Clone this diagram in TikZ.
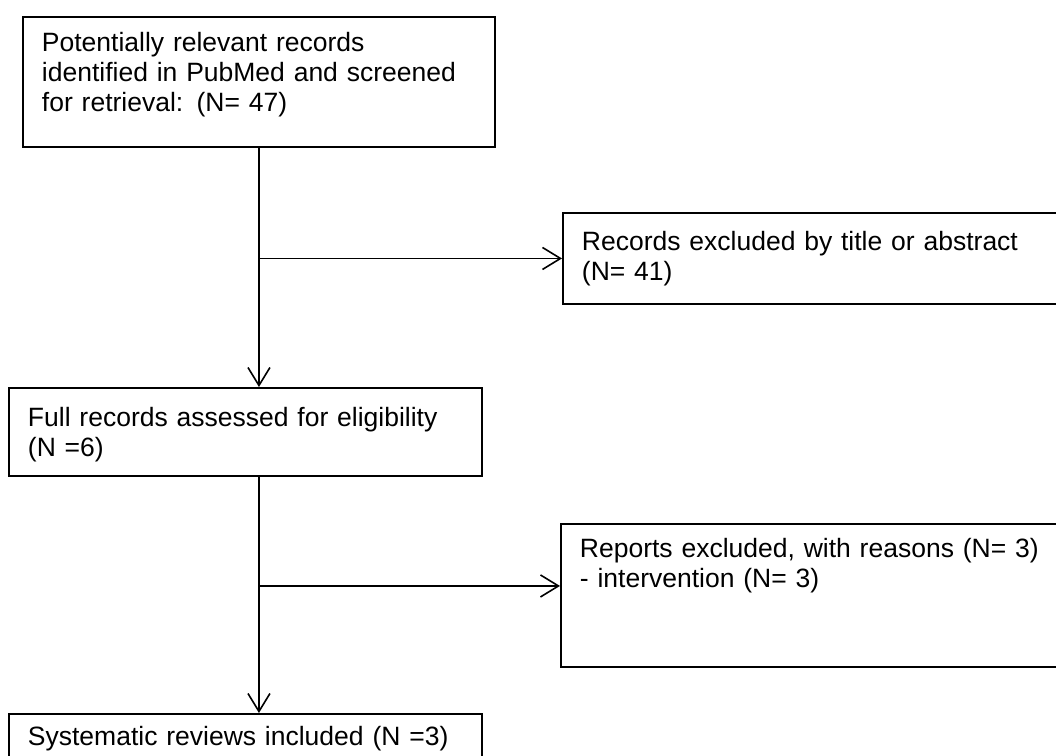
\documentclass[tikz,border=0pt]{standalone}
\usepackage{fontspec}
\setmainfont{Liberation Sans}
\usetikzlibrary{arrows.meta, positioning}

\begin{document}
\begin{tikzpicture}[
  x=1pt, y=-1pt,
  rec/.style={rectangle, draw=black, line width=1.9pt, anchor=north west,
    align=left, inner xsep=19pt, inner ysep=0pt,
    font=\fontsize{26.5}{29.6}\selectfont},
  arr/.style={-{Straight Barb[length=18pt, width=22pt, line width=1.6pt]}, line width=1.6pt, black}
]
  \useasboundingbox (0,0) rectangle (1056,755);

  \node[rec, text width=434pt, text height=35pt, text depth=95pt] (ident) at (22,16)
    {Potentially relevant records\\identified in PubMed and screened\\for retrieval: (N= 47)};
  \node[rec, text width=480pt, text height=38pt, text depth=53pt] (excl) at (562,212)
    {Records excluded by title or abstract\\(N= 41)};
  \node[rec, text width=435pt, text height=39pt, text depth=49pt] (full) at (8,387)
    {Full records assessed for eligibility\\(N =6)};
  \node[rec, text width=482pt, text height=34pt, text depth=109pt] (reports) at (560,523)
    {Reports excluded, with reasons (N= 3)\\- intervention (N= 3)};
  \node[rec, text width=435pt, text height=32pt, text depth=20pt] (incl) at (8,713)
    {Systematic reviews included (N =3)};

  \coordinate (rin) at ([yshift=9.5pt]reports.west);

  % main column
  \draw[arr] (ident.south) -- (ident.south |- full.north);
  \draw[arr] (ident.south |- full.south) -- (ident.south |- incl.north);

  % exclusions
  \draw[arr] (ident.south |- excl.west) -- (excl.west);
  \draw[arr] (ident.south |- rin) -- (rin);

\end{tikzpicture}
\end{document}
